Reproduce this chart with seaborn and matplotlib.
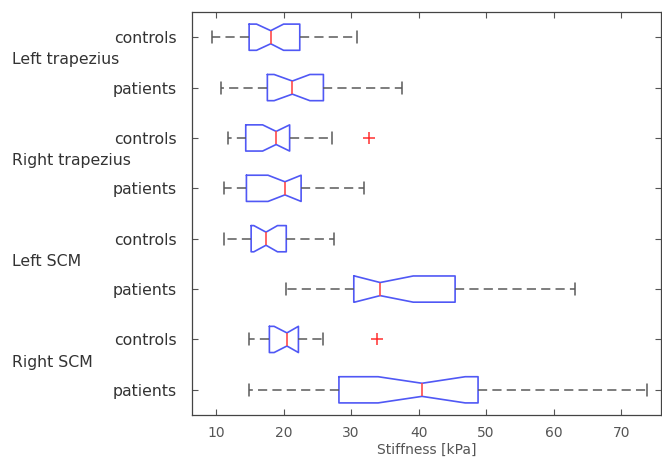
import matplotlib
matplotlib.use("Agg")
import matplotlib.pyplot as plt
import matplotlib.transforms as mtransforms
import seaborn as sns

# muscles (two rows each: controls, patients)
groups = ["Left trapezius", "Right trapezius", "Left SCM", "Right SCM"]
cohorts = ["controls", "patients"]

# box statistics, top row to bottom row (kPa)
whislo = [9.4, 10.8, 11.7, 11.2, 11.2, 20.4, 14.9, 14.9]
q1 = [14.9, 17.6, 14.4, 14.5, 15.2, 30.4, 17.9, 28.2]
cilo = [16.0, 18.6, 16.9, 17.7, 15.6, 30.5, 18.6, 34.0]
med = [18.1, 21.3, 18.9, 20.2, 17.4, 34.3, 20.5, 40.5]
cihi = [20.0, 23.9, 20.9, 22.6, 19.1, 39.2, 22.2, 46.9]
q3 = [22.4, 25.9, 20.9, 22.6, 20.4, 45.4, 22.2, 48.8]
whishi = [30.9, 37.6, 27.2, 31.9, 27.4, 63.1, 25.8, 73.8]
fliers = [[], [], [32.6], [], [], [], [33.8], []]

xticks = [10, 20, 30, 40, 50, 60, 70]

sns.set_style("ticks")
plt.rcParams["font.family"] = ["DejaVu Sans"]

stats = []
for i in range(len(med)):
    stats.append({
        "whislo": whislo[i], "q1": q1[i], "med": med[i], "q3": q3[i],
        "whishi": whishi[i], "cilo": cilo[i], "cihi": cihi[i],
        "fliers": fliers[i],
    })
positions = list(range(1, len(stats) + 1))

fig = plt.figure(figsize=(6.62, 4.57), dpi=100)
ax = fig.add_axes([0.2896, 0.0919, 0.709, 0.8818])

ax.bxp(
    stats,
    positions=positions,
    orientation="horizontal",
    widths=0.52,
    capwidths=0.24,
    shownotches=True,
    boxprops=dict(color="#5058f5", linewidth=1.2),
    whiskerprops=dict(color="#5a5a5a", linewidth=1.1, linestyle=(0, (6.0, 3.4))),
    capprops=dict(color="#5a5a5a", linewidth=1.1),
    medianprops=dict(color="#ff4a4a", linewidth=1.2),
    flierprops=dict(marker="+", markeredgecolor="#ff3030", markersize=8,
                    markeredgewidth=1.1, linestyle="none"),
)

ax.set_ylim(len(stats) + 0.5, 0.5)
ax.set_xlim(6.4, 75.9)
ax.set_yticks(positions)
ax.set_yticklabels(cohorts * len(groups), fontsize=11.3, color="#333333")
ax.set_xticks(xticks)
ax.set_xticklabels([str(t) for t in xticks], fontsize=10, color="#555555")
ax.tick_params(which="both", direction="in", top=True, right=True,
               length=4, width=0.8, color="#555555")
ax.tick_params(axis="y", pad=10.5)
ax.tick_params(axis="x", pad=8)
for sp in ax.spines.values():
    sp.set_color("#444444")
    sp.set_linewidth(0.9)

ax.set_xlabel("Stiffness [kPa]", fontsize=10, color="#555555", labelpad=2)

# muscle names to the left of the cohort labels
trans = mtransforms.blended_transform_factory(fig.transFigure, ax.transData)
for k, name in enumerate(groups):
    ymid = (positions[2 * k] + positions[2 * k + 1]) / 2 - 0.05
    ax.text(12 / 662, ymid, name, transform=trans, ha="left", va="center",
            fontsize=11.3, color="#333333", clip_on=False)

fig.savefig("out.png", dpi=100)
